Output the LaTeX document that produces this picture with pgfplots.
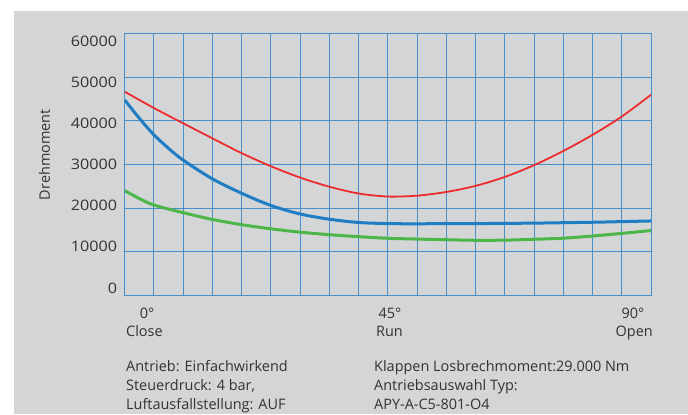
\documentclass[border=0pt]{standalone}
\usepackage{pgfplots}
\pgfplotsset{compat=1.18}
\usepackage{fontspec}
\setmainfont{Open Sans}
\newfontfamily\digitfont[FakeStretch=1.12]{Open Sans}
\definecolor{bg}{RGB}{212,213,215}
\definecolor{gridblue}{RGB}{72,144,204}
\definecolor{cred}{RGB}{237,45,45}
\definecolor{cblue}{RGB}{30,125,195}
\definecolor{cgreen}{RGB}{76,182,72}
\definecolor{txt}{RGB}{51,51,51}
\begin{document}
\begin{tikzpicture}[x=1bp,y=1bp]
\useasboundingbox (0,0) rectangle (688,414);
\fill[white] (0,0) rectangle (688,414);
\fill[bg] (14,0) rectangle (688,403);
\begin{axis}[at={(124.7bp,118.7bp)}, anchor=south west, scale only axis,
  width=526.3bp, height=261.6bp,
  xmin=0, xmax=18, ymin=0, ymax=60000,
  xtick={0,...,18}, ytick={0,10000,...,60000},
  scaled y ticks=false,
  xticklabels={}, yticklabels={}, major tick length=0pt,
  grid=major, grid style={draw=gridblue, line width=1bp},
  axis line style={draw=gridblue, line width=1bp},
  clip=true]
\addplot[cgreen, line width=3bp, smooth] coordinates {
(0,24000)(0.5,22200)(1,20700)(2,18950)(3,17400)(4,16200)(5,15250)(6,14480)(7,13900)(8,13450)(9,13080)(10,12900)(11,12750)(12,12620)(13,12650)(14,12850)(15,13100)(16,13600)(17,14200)(18,14850)};
\addplot[cblue, line width=3bp, smooth] coordinates {
(0,44800)(0.5,40600)(1,36800)(1.5,33700)(2,31000)(3,26700)(4,23400)(5,20600)(6,18650)(7,17450)(8,16700)(9,16450)(10,16400)(11,16450)(12,16450)(13,16500)(14,16550)(15,16650)(16,16750)(17,16900)(18,17050)};
\addplot[cred, line width=1.8bp, smooth] coordinates {
(0,46700)(1,42950)(2,39450)(3,36000)(4,32600)(5,29600)(6,27000)(7,24900)(8,23350)(9,22650)(10,22850)(11,23700)(12,25100)(13,27150)(14,29850)(15,33100)(16,36800)(17,41000)(18,46000)};
\end{axis}
\begin{scope}[every node/.style={text=txt, font=\fontsize{14.5}{18.7}\selectfont, inner sep=0pt}]
\begin{scope}[every node/.append style={font=\digitfont\fontsize{14.5}{18.7}\selectfont}]
\node[anchor=east] at (117.3,373) {60000};
\node[anchor=east] at (117.3,332) {50000};
\node[anchor=east] at (117.3,290.7) {40000};
\node[anchor=east] at (117.3,249.5) {30000};
\node[anchor=east] at (117.3,208.3) {20000};
\node[anchor=east] at (117.3,167.3) {10000};
\node[anchor=east] at (117.3,125.7) {0};
\end{scope}
\node[rotate=90] at (44.5,259.3) {Drehmoment};
\node[anchor=base] at (147,95.7) {0°};
\node[anchor=base] at (390,95.7) {45°};
\node[anchor=base] at (633,95.7) {90°};
\node[anchor=base west] at (126,77.3) {Close};
\node[anchor=base] at (389.5,77.3) {Run};
\node[anchor=base east] at (653,77.3) {Open};
\node[anchor=base west] at (126,42.3) {Antrieb: Einfachwirkend};
\node[anchor=base west] at (126,23.5) {Steuerdruck: 4 bar,};
\node[anchor=base west] at (126,5) {Luftausfallstellung: AUF};
\node[anchor=base west] at (374,42.3) {Klappen Losbrechmoment:29.000 Nm};
\node[anchor=base west] at (374,23.5) {Antriebsauswahl Typ:};
\node[anchor=base west] at (374,5) {APY-A-C5-801-O4};
\end{scope}
\end{tikzpicture}
\end{document}
